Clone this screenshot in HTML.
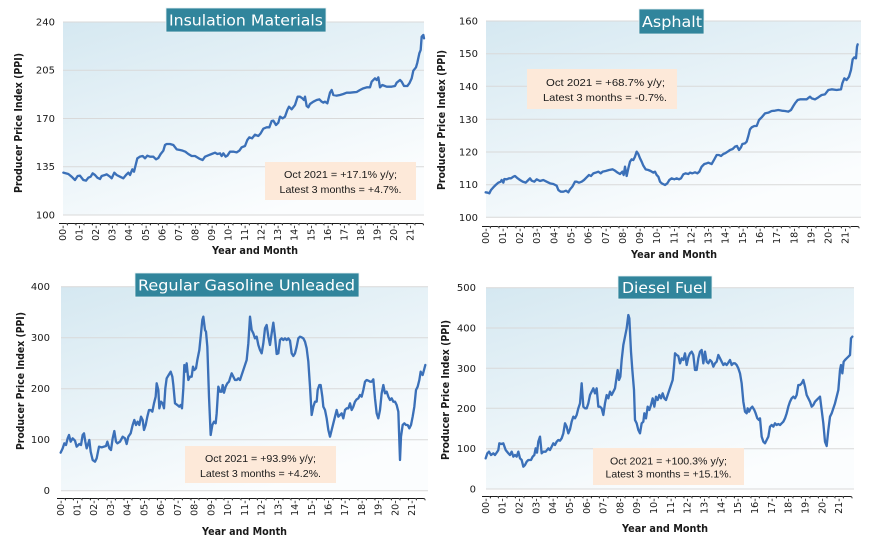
<!DOCTYPE html>
<html><head><meta charset="utf-8"><style>
html,body{margin:0;padding:0;background:#fff;}
svg{display:block;}
.tk{font-family:"DejaVu Sans","Liberation Sans",sans-serif;font-size:10px;fill:#1a1a1a;}
.xl{font-family:"DejaVu Sans","Liberation Sans",sans-serif;font-size:9.5px;fill:#1a1a1a;}
.at{font-family:"DejaVu Sans","Liberation Sans",sans-serif;font-weight:bold;font-size:10.5px;fill:#1a1a1a;}
.ti{font-family:"DejaVu Sans","Liberation Sans",sans-serif;font-size:15px;fill:#fff;}
.an{font-family:"Liberation Sans",sans-serif;font-size:10.5px;fill:#1a1a1a;}
.gl{stroke:#d9d9d9;stroke-width:1;}
.ln{fill:none;stroke:#3b70b8;stroke-width:7;stroke-linejoin:round;stroke-linecap:round;}
</style></head><body>
<svg width="870" height="541" viewBox="0 0 870 541" xmlns="http://www.w3.org/2000/svg">
<defs>
<linearGradient id="bg" x1="0" y1="0" x2="0.55" y2="1">
<stop offset="0" stop-color="#d5e8f1"/>
<stop offset="1" stop-color="#fbfdfe"/>
</linearGradient>
</defs>
<rect width="870" height="541" fill="#fff"/>

<!-- ============ CHART 1 : Insulation ============ -->
<rect x="63" y="22" width="361" height="193" fill="url(#bg)"/>
<g class="gl">
<line x1="63" y1="22" x2="424" y2="22"/>
<line x1="63" y1="70.2" x2="424" y2="70.2"/>
<line x1="63" y1="118.5" x2="424" y2="118.5"/>
<line x1="63" y1="166.7" x2="424" y2="166.7"/>
<line x1="63" y1="215" x2="424" y2="215"/>
</g>
<g class="tk" text-anchor="end">
<text x="55" y="25.5">240</text>
<text x="55" y="73.7">205</text>
<text x="55" y="122">170</text>
<text x="55" y="170.2">135</text>
<text x="55" y="218.5">100</text>
</g>
<g transform="scale(0.333333)">
<polyline class="ln" points="190,518 205,522 215,530 225,540 233,528 240,527 250,540 258,542 265,533 272,530 278,520 285,525 292,533 300,537 305,528 315,525 320,523 330,530 335,535 343,518 350,525 360,530 370,535 378,525 385,518 390,525 397,508 402,515 407,495 412,475 420,470 428,468 435,475 442,467 450,470 460,470 468,478 475,474 482,462 490,452 495,435 500,432 510,432 520,435 530,448 540,450 548,452 556,455 565,462 575,468 585,468 598,476 608,480 615,470 625,466 635,462 645,458 652,462 660,460 665,468 670,460 677,470 682,467 690,455 700,455 710,457 718,452 725,442 735,438 742,420 748,412 756,415 765,404 775,408 782,400 790,386 800,382 808,382 815,363 820,362 828,375 835,368 840,350 848,355 855,350 862,330 867,320 875,328 885,315 893,290 900,290 907,295 912,300 915,290 920,318 925,322 930,312 940,305 950,300 958,298 965,305 970,308 975,305 982,310 990,278 995,270 1000,285 1010,287 1020,285 1030,282 1040,278 1050,278 1060,277 1070,276 1080,270 1090,265 1100,262 1110,262 1115,245 1125,235 1130,240 1135,232 1140,262 1147,255 1160,260 1175,260 1185,258 1190,248 1200,240 1205,245 1212,258 1222,258 1228,250 1235,235 1240,212 1248,202 1252,188 1258,160 1262,150 1265,110 1270,105 1272,115"/>
</g>
<rect x="166" y="8" width="160" height="24" fill="#31859c" stroke="#e6f1f4" stroke-width="0.8"/>
<text class="ti" x="169" y="25.5" textLength="154" lengthAdjust="spacingAndGlyphs">Insulation Materials</text>
<rect x="265" y="162" width="151" height="38" fill="#fde9d9"/>
<text class="an" x="340.5" y="177.8" text-anchor="middle" textLength="113" lengthAdjust="spacingAndGlyphs">Oct 2021 = +17.1% y/y;</text>
<text class="an" x="340.5" y="192.8" text-anchor="middle" textLength="122" lengthAdjust="spacingAndGlyphs">Latest 3 months = +4.7%.</text>
<text class="at" transform="translate(19,123) rotate(-90)" text-anchor="middle" dominant-baseline="central" textLength="140" lengthAdjust="spacingAndGlyphs">Producer Price Index (PPI)</text>
<text class="at" x="255" y="251" text-anchor="middle" dominant-baseline="central" textLength="86" lengthAdjust="spacingAndGlyphs">Year and Month</text>
<g class="xl" text-anchor="end" dominant-baseline="central">
<text transform="translate(63.5,222) rotate(-90)">00-J</text><text transform="translate(71.8,222) rotate(-90)">J</text>
<text transform="translate(80.1,222) rotate(-90)">01-J</text><text transform="translate(88.3,222) rotate(-90)">J</text>
<text transform="translate(96.6,222) rotate(-90)">02-J</text><text transform="translate(104.9,222) rotate(-90)">J</text>
<text transform="translate(113.2,222) rotate(-90)">03-J</text><text transform="translate(121.4,222) rotate(-90)">J</text>
<text transform="translate(129.7,222) rotate(-90)">04-J</text><text transform="translate(138,222) rotate(-90)">J</text>
<text transform="translate(146.3,222) rotate(-90)">05-J</text><text transform="translate(154.5,222) rotate(-90)">J</text>
<text transform="translate(162.8,222) rotate(-90)">06-J</text><text transform="translate(171.1,222) rotate(-90)">J</text>
<text transform="translate(179.4,222) rotate(-90)">07-J</text><text transform="translate(187.6,222) rotate(-90)">J</text>
<text transform="translate(195.9,222) rotate(-90)">08-J</text><text transform="translate(204.2,222) rotate(-90)">J</text>
<text transform="translate(212.5,222) rotate(-90)">09-J</text><text transform="translate(220.7,222) rotate(-90)">J</text>
<text transform="translate(229,222) rotate(-90)">10-J</text><text transform="translate(237.3,222) rotate(-90)">J</text>
<text transform="translate(245.6,222) rotate(-90)">11-J</text><text transform="translate(253.8,222) rotate(-90)">J</text>
<text transform="translate(262.1,222) rotate(-90)">12-J</text><text transform="translate(270.4,222) rotate(-90)">J</text>
<text transform="translate(278.7,222) rotate(-90)">13-J</text><text transform="translate(286.9,222) rotate(-90)">J</text>
<text transform="translate(295.2,222) rotate(-90)">14-J</text><text transform="translate(303.5,222) rotate(-90)">J</text>
<text transform="translate(311.8,222) rotate(-90)">15-J</text><text transform="translate(320,222) rotate(-90)">J</text>
<text transform="translate(328.3,222) rotate(-90)">16-J</text><text transform="translate(336.6,222) rotate(-90)">J</text>
<text transform="translate(344.9,222) rotate(-90)">17-J</text><text transform="translate(353.1,222) rotate(-90)">J</text>
<text transform="translate(361.4,222) rotate(-90)">18-J</text><text transform="translate(369.7,222) rotate(-90)">J</text>
<text transform="translate(378,222) rotate(-90)">19-J</text><text transform="translate(386.2,222) rotate(-90)">J</text>
<text transform="translate(394.5,222) rotate(-90)">20-J</text><text transform="translate(402.8,222) rotate(-90)">J</text>
<text transform="translate(411.1,222) rotate(-90)">21-J</text><text transform="translate(419.3,222) rotate(-90)">J</text>
</g>

<!-- ============ CHART 2 : Asphalt ============ -->
<rect x="486" y="21" width="375" height="196.3" fill="url(#bg)"/>
<g class="gl">
<line x1="486" y1="21" x2="861" y2="21"/>
<line x1="486" y1="53.7" x2="861" y2="53.7"/>
<line x1="486" y1="86.3" x2="861" y2="86.3"/>
<line x1="486" y1="119.3" x2="861" y2="119.3"/>
<line x1="486" y1="152" x2="861" y2="152"/>
<line x1="486" y1="184.7" x2="861" y2="184.7"/>
<line x1="486" y1="217.3" x2="861" y2="217.3"/>
</g>
<g class="tk" text-anchor="end">
<text x="478" y="24.5">160</text>
<text x="478" y="57.2">150</text>
<text x="478" y="89.8">140</text>
<text x="478" y="122.8">130</text>
<text x="478" y="155.5">120</text>
<text x="478" y="188.2">110</text>
<text x="478" y="220.8">100</text>
</g>
<g transform="translate(435,0) scale(0.333333)">
<polyline class="ln" points="152,577 158,578 163,580 168,570 175,562 182,555 190,548 197,545 200,540 205,548 208,537 215,538 222,535 228,535 235,530 240,528 248,535 255,540 263,545 272,548 280,540 285,535 290,542 298,545 305,538 315,543 325,540 335,545 345,550 355,552 365,557 370,570 377,575 385,575 393,572 400,577 405,568 412,560 420,545 425,545 432,548 440,545 447,540 455,532 462,525 468,528 475,520 482,518 490,515 497,520 503,515 512,513 522,510 533,508 540,512 548,518 555,522 562,515 566,525 570,500 575,528 580,505 585,485 590,478 595,480 600,470 605,455 610,462 615,475 620,485 625,497 632,508 640,510 647,513 655,518 660,515 665,525 670,530 675,545 680,550 690,555 697,550 703,540 710,535 718,538 725,535 732,538 738,535 745,523 752,520 760,522 765,518 772,520 780,517 787,520 793,515 800,500 808,492 815,490 820,488 830,492 838,478 845,465 852,465 858,468 865,462 870,460 878,455 885,450 893,447 900,440 906,438 912,450 918,442 922,432 930,430 935,425 940,408 945,388 950,382 958,378 965,378 972,360 980,352 990,340 1000,338 1010,333 1020,332 1030,330 1040,332 1050,333 1060,335 1068,330 1075,318 1080,310 1088,300 1095,298 1105,298 1115,298 1125,290 1130,295 1140,298 1150,292 1160,285 1170,283 1180,270 1190,268 1205,270 1218,268 1222,250 1228,235 1235,240 1242,230 1248,210 1253,178 1258,172 1263,175 1266,140 1268,133"/>
</g>
<rect x="639" y="9" width="65" height="25" fill="#31859c" stroke="#e6f1f4" stroke-width="0.8"/>
<text class="ti" x="642" y="27" textLength="60" lengthAdjust="spacingAndGlyphs">Asphalt</text>
<rect x="527" y="69" width="150" height="40" fill="#fde9d9"/>
<text class="an" x="605.5" y="85.8" text-anchor="middle" textLength="119" lengthAdjust="spacingAndGlyphs">Oct 2021 = +68.7% y/y;</text>
<text class="an" x="605" y="100.8" text-anchor="middle" textLength="124" lengthAdjust="spacingAndGlyphs">Latest 3 months = -0.7%.</text>
<text class="at" transform="translate(442,120) rotate(-90)" text-anchor="middle" dominant-baseline="central" textLength="140" lengthAdjust="spacingAndGlyphs">Producer Price Index (PPI)</text>
<text class="at" x="674" y="255" text-anchor="middle" dominant-baseline="central" textLength="86" lengthAdjust="spacingAndGlyphs">Year and Month</text>
<g class="xl" text-anchor="end" dominant-baseline="central">
<text transform="translate(486.3,225) rotate(-90)">00-J</text><text transform="translate(494.9,225) rotate(-90)">J</text>
<text transform="translate(503.4,225) rotate(-90)">01-J</text><text transform="translate(512,225) rotate(-90)">J</text>
<text transform="translate(520.6,225) rotate(-90)">02-J</text><text transform="translate(529.1,225) rotate(-90)">J</text>
<text transform="translate(537.7,225) rotate(-90)">03-J</text><text transform="translate(546.3,225) rotate(-90)">J</text>
<text transform="translate(554.9,225) rotate(-90)">04-J</text><text transform="translate(563.4,225) rotate(-90)">J</text>
<text transform="translate(572,225) rotate(-90)">05-J</text><text transform="translate(580.6,225) rotate(-90)">J</text>
<text transform="translate(589.1,225) rotate(-90)">06-J</text><text transform="translate(597.7,225) rotate(-90)">J</text>
<text transform="translate(606.3,225) rotate(-90)">07-J</text><text transform="translate(614.8,225) rotate(-90)">J</text>
<text transform="translate(623.4,225) rotate(-90)">08-J</text><text transform="translate(632,225) rotate(-90)">J</text>
<text transform="translate(640.5,225) rotate(-90)">09-J</text><text transform="translate(649.1,225) rotate(-90)">J</text>
<text transform="translate(657.7,225) rotate(-90)">10-J</text><text transform="translate(666.2,225) rotate(-90)">J</text>
<text transform="translate(674.8,225) rotate(-90)">11-J</text><text transform="translate(683.4,225) rotate(-90)">J</text>
<text transform="translate(692,225) rotate(-90)">12-J</text><text transform="translate(700.5,225) rotate(-90)">J</text>
<text transform="translate(709.1,225) rotate(-90)">13-J</text><text transform="translate(717.7,225) rotate(-90)">J</text>
<text transform="translate(726.2,225) rotate(-90)">14-J</text><text transform="translate(734.8,225) rotate(-90)">J</text>
<text transform="translate(743.4,225) rotate(-90)">15-J</text><text transform="translate(751.9,225) rotate(-90)">J</text>
<text transform="translate(760.5,225) rotate(-90)">16-J</text><text transform="translate(769.1,225) rotate(-90)">J</text>
<text transform="translate(777.6,225) rotate(-90)">17-J</text><text transform="translate(786.2,225) rotate(-90)">J</text>
<text transform="translate(794.8,225) rotate(-90)">18-J</text><text transform="translate(803.4,225) rotate(-90)">J</text>
<text transform="translate(811.9,225) rotate(-90)">19-J</text><text transform="translate(820.5,225) rotate(-90)">J</text>
<text transform="translate(829.1,225) rotate(-90)">20-J</text><text transform="translate(837.6,225) rotate(-90)">J</text>
<text transform="translate(846.2,225) rotate(-90)">21-J</text><text transform="translate(854.8,225) rotate(-90)">J</text>
</g>

<!-- ============ CHART 3 : Gasoline ============ -->
<rect x="61" y="286.7" width="367" height="204" fill="url(#bg)"/>
<g class="gl">
<line x1="61" y1="286.7" x2="428" y2="286.7"/>
<line x1="61" y1="337.7" x2="428" y2="337.7"/>
<line x1="61" y1="388.7" x2="428" y2="388.7"/>
<line x1="61" y1="439.7" x2="428" y2="439.7"/>
<line x1="61" y1="490.7" x2="428" y2="490.7"/>
</g>
<g class="tk" text-anchor="end">
<text x="50" y="290.2">400</text>
<text x="50" y="341.2">300</text>
<text x="50" y="392.2">200</text>
<text x="50" y="443.2">100</text>
<text x="50" y="494.2">0</text>
</g>
<g transform="translate(0,270) scale(0.333333)">
<polyline class="ln" points="182,548 188,535 193,520 198,525 203,505 207,495 212,515 218,505 225,512 230,530 238,522 243,525 248,495 252,490 256,515 260,535 265,520 268,510 272,545 278,570 285,575 290,565 297,530 305,532 312,530 318,528 322,515 328,535 333,540 338,505 343,483 348,515 352,520 360,515 368,500 375,505 380,522 385,500 392,490 398,465 403,450 408,465 413,455 418,465 423,440 428,450 432,480 437,465 442,440 447,420 452,420 457,425 462,400 467,380 470,340 475,360 478,415 483,395 488,400 492,415 496,355 500,325 506,315 512,305 517,320 520,345 525,400 532,405 538,410 542,405 546,415 550,355 553,285 557,305 560,280 565,330 570,320 575,320 579,290 583,300 588,295 592,270 598,240 603,190 607,150 610,140 615,180 618,185 622,230 627,380 632,495 637,465 642,455 647,460 650,430 655,350 660,365 665,365 668,345 672,368 677,350 682,340 687,335 690,325 695,310 700,320 705,330 710,330 715,325 720,330 725,315 730,300 735,285 740,270 745,220 750,140 755,180 760,190 765,205 770,200 775,225 780,240 785,250 790,220 795,175 800,165 805,200 810,225 815,190 820,158 825,200 830,252 835,250 840,210 845,205 850,210 855,205 860,210 865,205 870,212 875,250 880,258 885,250 890,230 895,205 900,200 905,202 910,205 915,215 920,235 925,275 930,350 935,435 940,410 945,395 950,395 953,360 958,345 962,345 967,380 970,410 975,420 980,445 985,480 990,500 995,480 1000,460 1005,440 1010,420 1015,440 1020,435 1025,430 1030,445 1035,420 1040,415 1045,415 1050,400 1055,420 1060,410 1065,395 1070,388 1075,385 1080,375 1085,380 1090,360 1095,335 1100,330 1105,332 1110,335 1115,335 1120,328 1125,385 1130,430 1135,445 1140,420 1145,370 1150,345 1155,370 1160,365 1165,380 1170,390 1175,385 1180,395 1185,395 1190,405 1195,425 1200,570 1203,500 1208,465 1213,460 1218,465 1223,465 1228,475 1233,465 1238,440 1243,410 1248,360 1253,350 1258,330 1262,305 1268,315 1272,300 1276,285"/>
</g>
<rect x="135" y="273" width="224" height="24" fill="#31859c" stroke="#e6f1f4" stroke-width="0.8"/>
<text class="ti" x="138" y="290.5" textLength="217" lengthAdjust="spacingAndGlyphs">Regular Gasoline Unleaded</text>
<rect x="185" y="446" width="151" height="37" fill="#fde9d9"/>
<text class="an" x="260.5" y="461.8" text-anchor="middle" textLength="111" lengthAdjust="spacingAndGlyphs">Oct 2021 = +93.9% y/y;</text>
<text class="an" x="260.5" y="476.8" text-anchor="middle" textLength="121" lengthAdjust="spacingAndGlyphs">Latest 3 months = +4.2%.</text>
<text class="at" transform="translate(21,381) rotate(-90)" text-anchor="middle" dominant-baseline="central" textLength="138" lengthAdjust="spacingAndGlyphs">Producer Price Index (PPI)</text>
<text class="at" x="244.5" y="532" text-anchor="middle" dominant-baseline="central" textLength="85" lengthAdjust="spacingAndGlyphs">Year and Month</text>
<g class="xl" text-anchor="end" dominant-baseline="central">
<text transform="translate(61.3,497) rotate(-90)">00-J</text><text transform="translate(69.6,497) rotate(-90)">J</text>
<text transform="translate(78,497) rotate(-90)">01-J</text><text transform="translate(86.4,497) rotate(-90)">J</text>
<text transform="translate(94.7,497) rotate(-90)">02-J</text><text transform="translate(103.1,497) rotate(-90)">J</text>
<text transform="translate(111.5,497) rotate(-90)">03-J</text><text transform="translate(119.8,497) rotate(-90)">J</text>
<text transform="translate(128.2,497) rotate(-90)">04-J</text><text transform="translate(136.6,497) rotate(-90)">J</text>
<text transform="translate(144.9,497) rotate(-90)">05-J</text><text transform="translate(153.3,497) rotate(-90)">J</text>
<text transform="translate(161.7,497) rotate(-90)">06-J</text><text transform="translate(170,497) rotate(-90)">J</text>
<text transform="translate(178.4,497) rotate(-90)">07-J</text><text transform="translate(186.8,497) rotate(-90)">J</text>
<text transform="translate(195.1,497) rotate(-90)">08-J</text><text transform="translate(203.5,497) rotate(-90)">J</text>
<text transform="translate(211.9,497) rotate(-90)">09-J</text><text transform="translate(220.2,497) rotate(-90)">J</text>
<text transform="translate(228.6,497) rotate(-90)">10-J</text><text transform="translate(237,497) rotate(-90)">J</text>
<text transform="translate(245.3,497) rotate(-90)">11-J</text><text transform="translate(253.7,497) rotate(-90)">J</text>
<text transform="translate(262.1,497) rotate(-90)">12-J</text><text transform="translate(270.4,497) rotate(-90)">J</text>
<text transform="translate(278.8,497) rotate(-90)">13-J</text><text transform="translate(287.2,497) rotate(-90)">J</text>
<text transform="translate(295.5,497) rotate(-90)">14-J</text><text transform="translate(303.9,497) rotate(-90)">J</text>
<text transform="translate(312.3,497) rotate(-90)">15-J</text><text transform="translate(320.6,497) rotate(-90)">J</text>
<text transform="translate(329,497) rotate(-90)">16-J</text><text transform="translate(337.4,497) rotate(-90)">J</text>
<text transform="translate(345.7,497) rotate(-90)">17-J</text><text transform="translate(354.1,497) rotate(-90)">J</text>
<text transform="translate(362.5,497) rotate(-90)">18-J</text><text transform="translate(370.8,497) rotate(-90)">J</text>
<text transform="translate(379.2,497) rotate(-90)">19-J</text><text transform="translate(387.6,497) rotate(-90)">J</text>
<text transform="translate(395.9,497) rotate(-90)">20-J</text><text transform="translate(404.3,497) rotate(-90)">J</text>
<text transform="translate(412.7,497) rotate(-90)">21-J</text><text transform="translate(421,497) rotate(-90)">J</text>
</g>

<!-- ============ CHART 4 : Diesel ============ -->
<rect x="486" y="287.7" width="368" height="201.3" fill="url(#bg)"/>
<g class="gl">
<line x1="486" y1="287.7" x2="854" y2="287.7"/>
<line x1="486" y1="328" x2="854" y2="328"/>
<line x1="486" y1="368.3" x2="854" y2="368.3"/>
<line x1="486" y1="408.3" x2="854" y2="408.3"/>
<line x1="486" y1="448.7" x2="854" y2="448.7"/>
<line x1="486" y1="489" x2="854" y2="489"/>
</g>
<g class="tk" text-anchor="end">
<text x="476" y="291.2">500</text>
<text x="476" y="331.5">400</text>
<text x="476" y="371.8">300</text>
<text x="476" y="411.8">200</text>
<text x="476" y="452.2">100</text>
<text x="476" y="492.5">0</text>
</g>
<g transform="translate(435,270) scale(0.333333)">
<polyline class="ln" points="152,565 157,550 162,545 168,555 175,550 180,555 187,545 190,540 193,520 200,522 205,520 212,540 220,550 225,555 230,545 235,560 240,555 245,560 250,545 255,565 260,570 265,590 270,585 275,575 280,570 288,570 293,560 298,555 302,535 306,548 310,515 315,500 320,550 325,545 332,545 340,535 345,540 350,530 355,520 360,525 365,515 370,510 375,512 380,505 385,490 390,460 395,470 400,490 405,478 410,455 415,440 420,445 425,435 430,415 435,400 440,340 445,410 450,415 455,415 460,400 465,375 470,365 475,355 480,370 485,355 490,410 495,410 500,415 505,435 510,400 515,375 520,385 525,365 530,375 535,365 540,355 545,320 548,300 552,330 556,320 560,270 565,225 570,200 575,175 580,135 583,145 588,245 592,300 597,360 600,450 605,460 610,480 615,490 620,460 625,455 628,430 633,445 638,410 643,420 648,405 653,385 658,410 663,380 668,390 673,375 678,385 683,370 688,385 693,390 698,375 703,360 708,345 713,330 717,290 720,250 725,255 730,258 735,280 740,265 745,270 750,250 755,285 760,262 765,250 770,245 775,255 780,300 785,300 790,265 795,245 800,240 805,280 810,245 815,275 820,280 825,270 830,275 835,290 840,280 845,275 850,255 855,265 860,275 865,285 870,280 875,285 880,278 885,270 890,285 895,280 900,280 905,285 910,295 915,310 920,340 925,395 930,425 935,430 938,415 942,425 947,415 952,410 958,420 962,430 967,445 972,450 975,445 980,500 985,515 990,520 995,510 1000,500 1005,470 1010,465 1015,470 1020,460 1025,465 1030,462 1035,465 1040,460 1045,455 1050,445 1055,430 1060,410 1065,395 1070,385 1075,380 1080,385 1085,375 1090,345 1095,345 1100,340 1105,330 1110,350 1115,375 1120,385 1125,395 1130,410 1135,405 1140,395 1145,390 1150,385 1155,380 1160,420 1165,460 1170,515 1175,528 1180,480 1185,440 1190,430 1195,415 1200,400 1205,380 1210,360 1215,300 1218,285 1222,310 1226,275 1230,270 1235,265 1240,260 1245,255 1248,205 1252,200"/>
</g>
<rect x="618" y="276" width="94" height="23" fill="#31859c" stroke="#e6f1f4" stroke-width="0.8"/>
<text class="ti" x="622" y="293" textLength="85" lengthAdjust="spacingAndGlyphs">Diesel Fuel</text>
<rect x="593" y="448" width="151" height="37" fill="#fde9d9"/>
<text class="an" x="668.5" y="464.5" text-anchor="middle" textLength="117" lengthAdjust="spacingAndGlyphs">Oct 2021 = +100.3% y/y;</text>
<text class="an" x="668.5" y="477.5" text-anchor="middle" textLength="126" lengthAdjust="spacingAndGlyphs">Latest 3 months = +15.1%.</text>
<text class="at" transform="translate(446,390) rotate(-90)" text-anchor="middle" dominant-baseline="central" textLength="140" lengthAdjust="spacingAndGlyphs">Producer Price Index (PPI)</text>
<text class="at" x="665" y="529" text-anchor="middle" dominant-baseline="central" textLength="86" lengthAdjust="spacingAndGlyphs">Year and Month</text>
<g class="xl" text-anchor="end" dominant-baseline="central">
<text transform="translate(486.3,495) rotate(-90)">00-J</text><text transform="translate(494.7,495) rotate(-90)">J</text>
<text transform="translate(503.1,495) rotate(-90)">01-J</text><text transform="translate(511.5,495) rotate(-90)">J</text>
<text transform="translate(520,495) rotate(-90)">02-J</text><text transform="translate(528.4,495) rotate(-90)">J</text>
<text transform="translate(536.8,495) rotate(-90)">03-J</text><text transform="translate(545.2,495) rotate(-90)">J</text>
<text transform="translate(553.6,495) rotate(-90)">04-J</text><text transform="translate(562,495) rotate(-90)">J</text>
<text transform="translate(570.4,495) rotate(-90)">05-J</text><text transform="translate(578.8,495) rotate(-90)">J</text>
<text transform="translate(587.3,495) rotate(-90)">06-J</text><text transform="translate(595.7,495) rotate(-90)">J</text>
<text transform="translate(604.1,495) rotate(-90)">07-J</text><text transform="translate(612.5,495) rotate(-90)">J</text>
<text transform="translate(620.9,495) rotate(-90)">08-J</text><text transform="translate(629.3,495) rotate(-90)">J</text>
<text transform="translate(637.7,495) rotate(-90)">09-J</text><text transform="translate(646.1,495) rotate(-90)">J</text>
<text transform="translate(654.6,495) rotate(-90)">10-J</text><text transform="translate(663,495) rotate(-90)">J</text>
<text transform="translate(671.4,495) rotate(-90)">11-J</text><text transform="translate(679.8,495) rotate(-90)">J</text>
<text transform="translate(688.2,495) rotate(-90)">12-J</text><text transform="translate(696.6,495) rotate(-90)">J</text>
<text transform="translate(705,495) rotate(-90)">13-J</text><text transform="translate(713.4,495) rotate(-90)">J</text>
<text transform="translate(721.9,495) rotate(-90)">14-J</text><text transform="translate(730.3,495) rotate(-90)">J</text>
<text transform="translate(738.7,495) rotate(-90)">15-J</text><text transform="translate(747.1,495) rotate(-90)">J</text>
<text transform="translate(755.5,495) rotate(-90)">16-J</text><text transform="translate(763.9,495) rotate(-90)">J</text>
<text transform="translate(772.3,495) rotate(-90)">17-J</text><text transform="translate(780.7,495) rotate(-90)">J</text>
<text transform="translate(789.2,495) rotate(-90)">18-J</text><text transform="translate(797.6,495) rotate(-90)">J</text>
<text transform="translate(806,495) rotate(-90)">19-J</text><text transform="translate(814.4,495) rotate(-90)">J</text>
<text transform="translate(822.8,495) rotate(-90)">20-J</text><text transform="translate(831.2,495) rotate(-90)">J</text>
<text transform="translate(839.6,495) rotate(-90)">21-J</text><text transform="translate(848,495) rotate(-90)">J</text>
</g>
</svg>
</body></html>
